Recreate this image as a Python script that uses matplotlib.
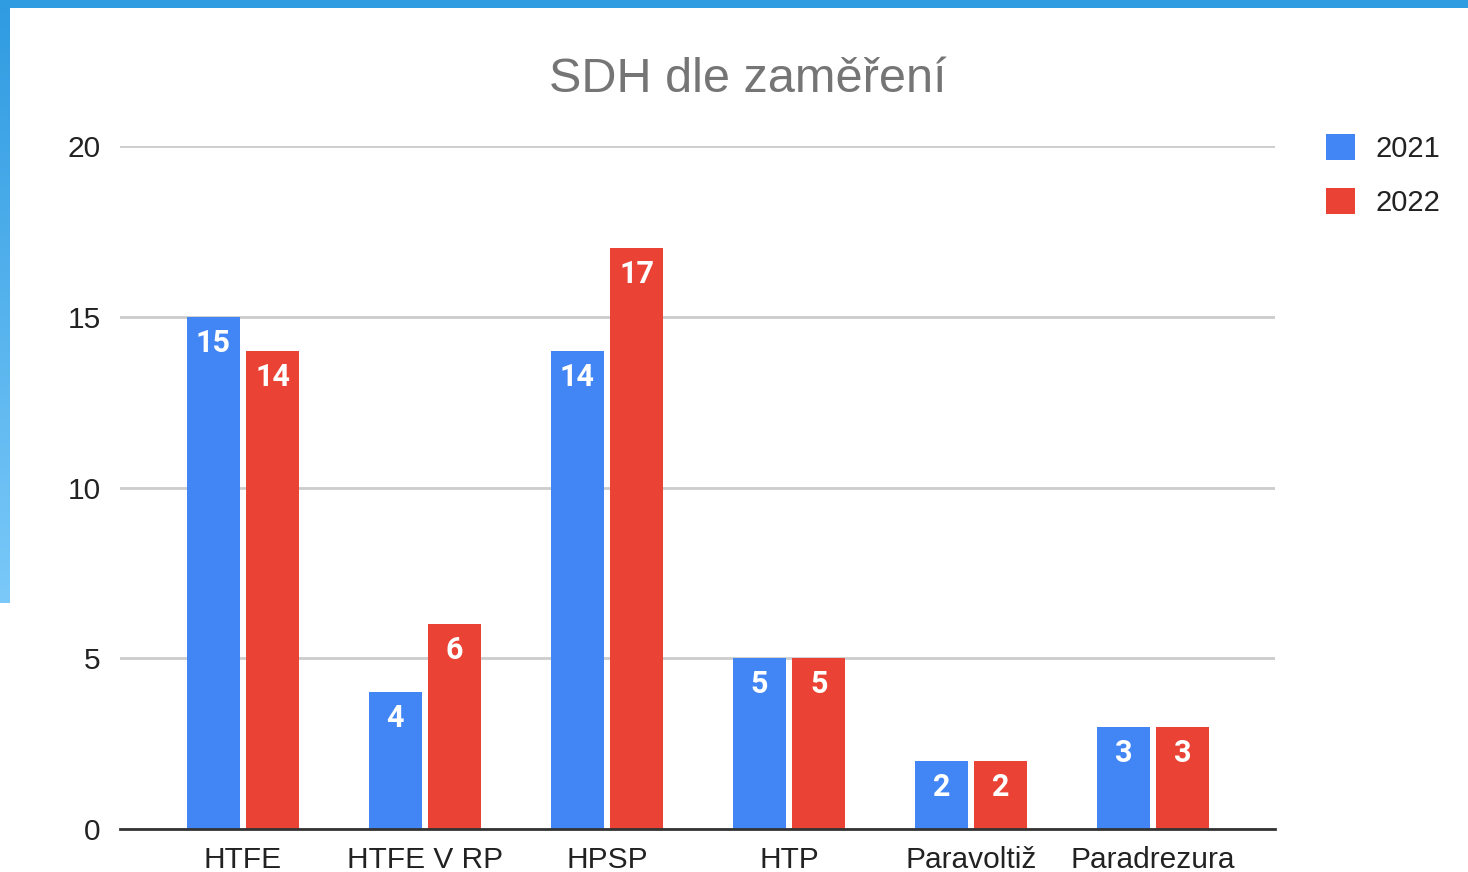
import numpy as np
import matplotlib.pyplot as plt
from matplotlib.patches import Rectangle

plt.rcParams['font.family'] = ['Liberation Sans', 'DejaVu Sans']

# --- data ---
categories = ['HTFE', 'HTFE V RP', 'HPSP', 'HTP', 'Paravoltiž', 'Paradrezura']
values_2021 = [15, 4, 14, 5, 2, 3]
values_2022 = [14, 6, 17, 5, 2, 3]
series_names = ['2021', '2022']
y_ticks = [0, 5, 10, 15, 20]

BLUE = '#4285F4'
RED = '#EA4335'

W, H = 1468, 872
fig = plt.figure(figsize=(W / 100, H / 100), dpi=100)
fig.patch.set_facecolor('white')

# --- slide frame: blue band on top and a gradient strip on the left ---
fig.patches.append(Rectangle((0, 1 - 8 / H), 1, 8 / H, transform=fig.transFigure,
                             facecolor='#2F9BE1', edgecolor='none', zorder=0))
strip = fig.add_axes([0, 1 - 603 / H, 10 / W, 603 / H])
grad = np.linspace(0, 1, 256).reshape(-1, 1)
top_c = np.array([0x2F, 0x9B, 0xE1]) / 255
bot_c = np.array([0x7A, 0xC9, 0xF9]) / 255
img = top_c[None, None, :] * (1 - grad[:, :, None]) + bot_c[None, None, :] * grad[:, :, None]
strip.imshow(img, aspect='auto', extent=[0, 1, 0, 1], origin='upper')
strip.axis('off')

# --- main chart ---
ax = fig.add_axes([120 / W, 1 - 829 / H, (1275 - 120) / W, (829 - 146) / H])
x = np.arange(len(categories))
bw = 0.29
off = 0.163

bars1 = ax.bar(x - off, values_2021, bw, color=BLUE, zorder=3, label=series_names[0])
bars2 = ax.bar(x + off, values_2022, bw, color=RED, zorder=3, label=series_names[1])

for bars in (bars1, bars2):
    for b in bars:
        h = b.get_height()
        ax.annotate(f'{int(h)}', (b.get_x() + b.get_width() / 2, h),
                    xytext=(0, -26), textcoords='offset pixels',
                    ha='center', va='center', color='white',
                    fontsize=22, fontweight='bold', family=['Roboto', 'DejaVu Sans'],
                    zorder=4)

ax.set_xlim(-0.676, 5.67)
ax.set_ylim(0, 20)
ax.set_yticks(y_ticks)
ax.set_xticks(x)
ax.set_xticklabels(categories)
ax.tick_params(axis='both', length=0, labelsize=21.5, colors='#222222')
ax.tick_params(axis='y', pad=14)
ax.tick_params(axis='x', pad=12)
ax.grid(axis='y', color='#CCCCCC', linewidth=2, zorder=0)
for s in ['top', 'right', 'left']:
    ax.spines[s].set_visible(False)
ax.spines['bottom'].set_color('#333333')
ax.spines['bottom'].set_linewidth(2)
ax.spines['bottom'].set_zorder(5)

fig.text(748 / W, 1 - 79 / H, 'SDH dle zaměření', ha='center', va='center',
         fontsize=35, color='#757575')

ax.legend(loc='upper left', bbox_to_anchor=(1300 / W, 1 - 108 / H),
          bbox_transform=fig.transFigure, frameon=False, fontsize=21,
          handlelength=1.0, handleheight=1.0, handletextpad=0.7,
          labelspacing=0.85, labelcolor='#222222')

fig.savefig('out.png', dpi=100)
